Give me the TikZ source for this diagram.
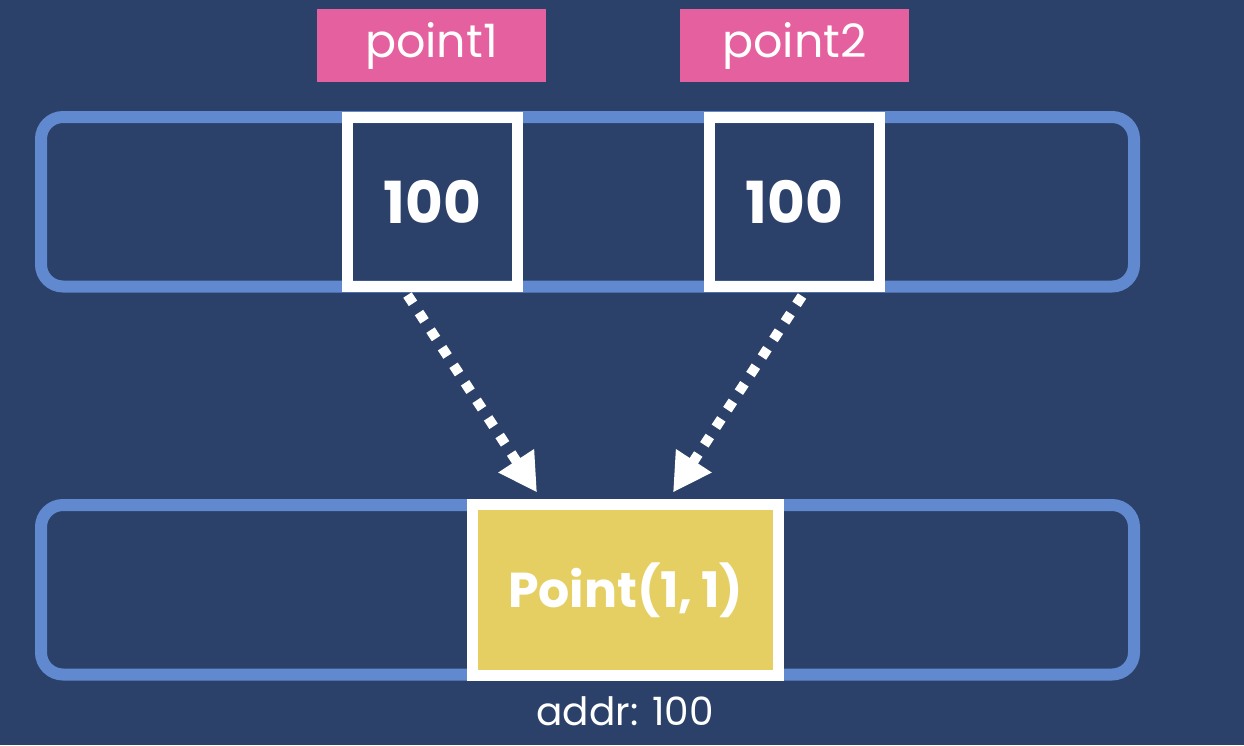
\documentclass[tikz,border=0pt]{standalone}
\usepackage{fontspec}
\setmainfont{Poppins}
\usetikzlibrary{arrows.meta,calc}
\definecolor{bgc}{HTML}{2B4169}
\definecolor{rowc}{HTML}{6089D0}
\definecolor{pinkc}{HTML}{E5609F}
\definecolor{yelc}{HTML}{E6CF62}
\tikzset{
  row/.style={draw=rowc,line width=12pt,rounded corners=22pt},
  tag/.style={fill=pinkc,minimum width=229pt,minimum height=73pt,inner sep=0pt,text=white,font=\fontsize{46}{48}\selectfont},
  cell/.style={draw=white,line width=11pt,minimum width=170pt,minimum height=169.5pt,inner sep=0pt,text=white,font=\fontsize{58}{60}\selectfont\bfseries},
  obj/.style={draw=white,fill=yelc,line width=11pt,minimum width=306pt,minimum height=171pt,inner sep=0pt,text=white,font=\fontsize{49}{52}\selectfont\bfseries},
  ptr/.style={draw=white,line width=10pt,dash pattern=on 10pt off 11pt,-{Triangle[length=38pt,width=40pt,fill=white]}},
}
\begin{document}
\begin{tikzpicture}[x=1pt,y=-1pt]
\fill[bgc] (0,0) rectangle (1244,745);
\useasboundingbox (0,0) rectangle (1244,745);
\draw[row] (41,117) rectangle (1134,286.5);
\draw[row] (41,505) rectangle (1134,674.5);
\node[tag] (t1) at (431.5,45.5) {point1};
\node[tag] (t2) at (794.5,45.5) {point2};
\node[cell] (c1) at (432.5,201.75) {100};
\node[cell] (c2) at (794.5,201.75) {100};
\node[obj] (o) at (625.5,590) {Point(1,\,1)};
\node[text=white,font=\fontsize{39}{41}\selectfont] (ad) at (625,711) {addr: 100};
\draw[ptr] ($(c1.south)+(-25,3)$) -- ($(o.north)+(-88.5,-6.5)$);
\draw[ptr] ($(c2.south)+(7.5,4)$) -- ($(o.north)+(47.5,-6.5)$);
\end{tikzpicture}
\end{document}
